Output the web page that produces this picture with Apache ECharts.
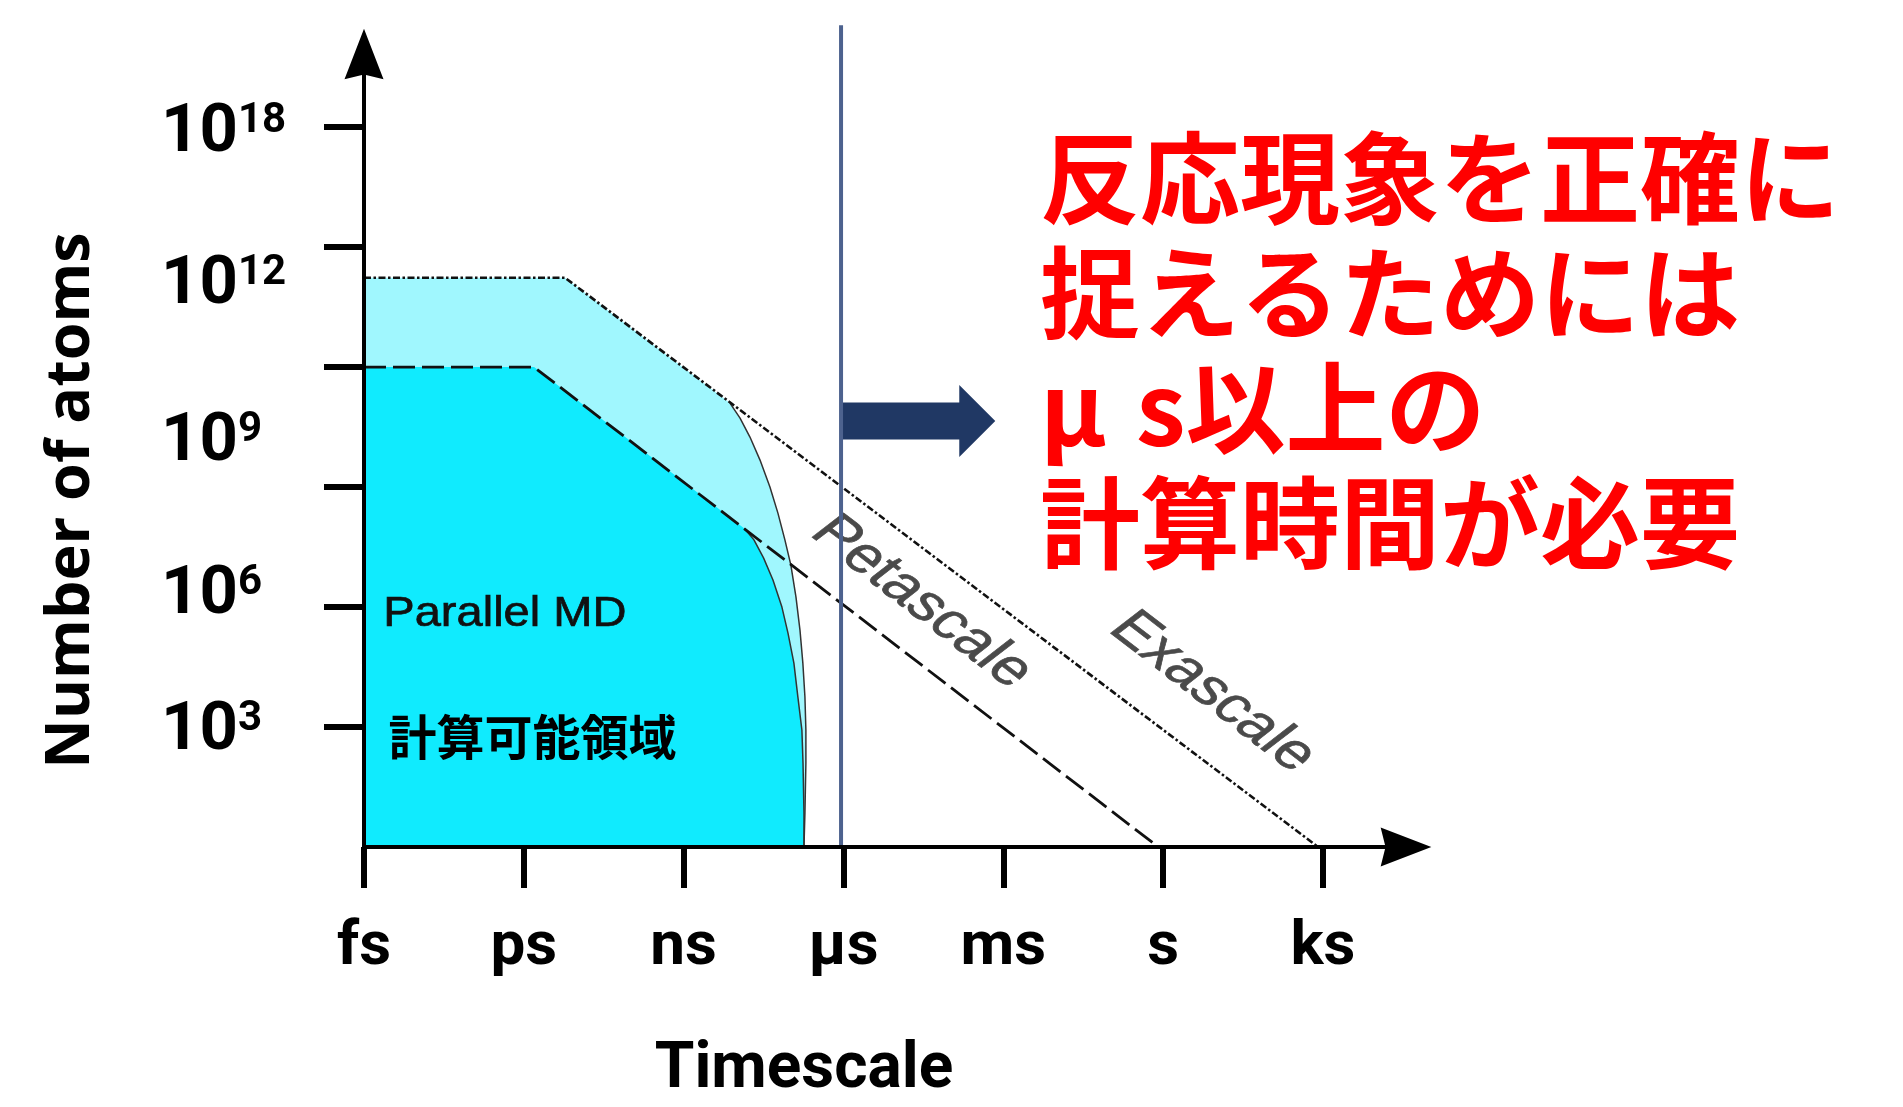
<!DOCTYPE html>
<html><head><meta charset="utf-8">
<script src="https://cdn.jsdelivr.net/npm/echarts@6/dist/echarts.min.js"></script>
<style>html,body{margin:0;padding:0;background:#fff}#c{width:1903px;height:1107px}</style>
</head><body><div id="c"></div>
<script>
// ---- data (schematic units: 1 x-unit = 3 decades of time, y units follow the drawn ticks) ----
const timeLabels = ['fs', 'ps', 'ns', 'µs', 'ms', 's', 'ks'];
const timeTicks = [0, 1, 2, 3, 4, 5, 6];
const atomTicks = [1, 2, 3, 4, 5, 6];
const atomLabelExp = [3, 6, 9, 12, 18];
const atomLabelAt = [0.955, 2.09, 3.365, 4.677, 5.945];

const exascale = [[0, 4.745], [1.258, 4.745], [5.97, 0]];
const petascale = [[0, 4.0], [1.064, 4.0], [4.97, 0]];

const exaRegionTop = [[0, 4.745], [1.258, 4.745]];
const exaRegionCurve = [[2.29, 3.70], [2.353, 3.575], [2.415, 3.417], [2.478, 3.225], [2.54, 3.0], [2.59, 2.783], [2.634, 2.558], [2.671, 2.35], [2.703, 2.083], [2.728, 1.808], [2.746, 1.533], [2.759, 1.25], [2.765, 0.975], [2.765, 0.70], [2.759, 0.283], [2.753, 0]];
const petaRegionTop = [[0, 4.0], [1.064, 4.0]];
const petaRegionCurve = [[2.38, 2.655], [2.44, 2.56], [2.50, 2.41], [2.559, 2.225], [2.615, 2.0], [2.653, 1.783], [2.69, 1.533], [2.715, 1.25], [2.74, 0.975], [2.747, 0.70], [2.753, 0.283], [2.753, 0]];

const microLine = [[2.985, 0], [2.985, 6.85]];
const arrowSpan = [[2.985, 3.95, 3.55]];

const regionLabel = ['Parallel MD'];
const regionLabelAt = [[0.121, 1.94]];
const regionLabelJa = ['計算可能領域'];
const regionLabelJaAt = [[0.153, 0.917]];
const scaleLabels = ['Petascale', 'Exascale'];
const scaleLabelAt = [[3.49, 2.04], [5.31, 1.29]];
const noteLines = ['反応現象を正確に', '捉えるためには', 'μs以上の', '計算時間が必要'];

// ---- chart ----
const chart = echarts.init(document.getElementById('c'), null, {renderer: 'canvas'});
const arrowPath = 'path://M20,0L40,52L20,47L0,52Z';
function nearestIdx(arr, v) {
  let best = 0;
  for (let i = 1; i < arr.length; i++) if (Math.abs(arr[i] - v) < Math.abs(arr[best] - v)) best = i;
  return best;
}
const noteText = noteLines.map(s => s.replace('μ', '{mu|μ}')).join('\n');
const noteFont = {fontFamily: 'Noto Sans CJK JP', fontWeight: 'bold', fontSize: 100, lineHeight: 115, color: '#ff0000'};
const option = {
  animation: false,
  backgroundColor: '#fff',
  title: {
    text: noteText,
    left: 1040, top: 120, padding: 0,
    textStyle: Object.assign({}, noteFont, {rich: {mu: Object.assign({}, noteFont, {width: 96})}})
  },
  grid: {left: 364, right: 497, top: 54, bottom: 260, outerBoundsMode: 'none'},
  xAxis: {
    type: 'value', min: 0, max: 6.52, z: 10,
    axisLine: {show: true, onZero: false, symbol: ['none', arrowPath], symbolSize: [39, 54], lineStyle: {color: '#000', width: 4}},
    axisTick: {show: true, customValues: timeTicks, length: 41, lineStyle: {color: '#000', width: 6}},
    axisLabel: {show: true, customValues: timeTicks, formatter: v => timeLabels[Math.round(v)], margin: 70,
      fontFamily: 'Roboto', fontWeight: 'bold', fontSize: 62, lineHeight: 62, color: '#000'},
    splitLine: {show: false},
    name: 'Timescale', nameLocation: 'middle', nameGap: 192,
    nameTextStyle: {fontFamily: 'Roboto', fontWeight: 'bold', fontSize: 64, lineHeight: 64, color: '#000', padding: [0, 162, 0, 0]}
  },
  yAxis: {
    type: 'value', min: 0, max: 6.61, z: 10,
    axisLine: {show: true, onZero: false, symbol: ['none', arrowPath], symbolSize: [39, 52], lineStyle: {color: '#000', width: 4}},
    axisTick: {show: true, customValues: atomTicks, length: 40, lineStyle: {color: '#000', width: 6}},
    axisLabel: {show: true, customValues: atomLabelAt, align: 'left', margin: 203,
      formatter: v => '{b|10}{s|' + atomLabelExp[nearestIdx(atomLabelAt, v)] + '}',
      rich: {
        b: {fontFamily: 'Roboto', fontWeight: 'bold', fontSize: 67, lineHeight: 67, color: '#000'},
        s: {fontFamily: 'Roboto', fontWeight: 'bold', fontSize: 42, lineHeight: 42, verticalAlign: 'top', color: '#000'}
      }},
    splitLine: {show: false},
    name: 'Number of atoms', nameLocation: 'middle', nameGap: 262,
    nameTextStyle: {fontFamily: 'Open Sans', fontWeight: 'bold', fontSize: 61, lineHeight: 61, color: '#000', padding: [0, 100, 0, 0]}
  },
  series: [
    {type: 'line', name: 'exa-region', data: exaRegionTop.concat(exaRegionCurve), symbol: 'none', silent: true,
      lineStyle: {width: 0, opacity: 0}, areaStyle: {color: '#a0f7fe', opacity: 1}, z: 1},
    {type: 'line', name: 'peta-region', data: petaRegionTop.concat(petaRegionCurve), symbol: 'none', silent: true,
      lineStyle: {width: 0, opacity: 0}, areaStyle: {color: '#10ebfe', opacity: 1}, z: 2},
    {type: 'line', data: exaRegionCurve, symbol: 'none', silent: true, lineStyle: {color: '#333', width: 1.5}, z: 3},
    {type: 'line', data: petaRegionCurve, symbol: 'none', silent: true, lineStyle: {color: '#333', width: 1.5}, z: 3},
    {type: 'line', name: 'Exascale', data: exascale, symbol: 'none', silent: true,
      lineStyle: {color: '#111', width: 2.6, type: [7, 2.5, 2.5, 2.5]}, z: 4},
    {type: 'line', name: 'Petascale', data: petascale, symbol: 'none', silent: true,
      lineStyle: {color: '#111', width: 2.8, type: [22, 7]}, z: 4},
    {type: 'custom', data: scaleLabelAt, silent: true, z: 5,
      renderItem: (params, api) => {
        const p = api.coord([api.value(0), api.value(1)]);
        return {type: 'group', x: p[0], y: p[1], scaleX: 1.3, children: [{
          type: 'text', rotation: -Math.PI / 4,
          style: {text: scaleLabels[params.dataIndex], fontFamily: 'Liberation Sans', fontSize: 50, fill: '#4a4a4a',
            stroke: '#4a4a4a', lineWidth: 0.6, align: 'center', verticalAlign: 'middle'}
        }]};
      }},
    {type: 'custom', data: regionLabelAt, silent: true, z: 5,
      renderItem: (params, api) => {
        const p = api.coord([api.value(0), api.value(1)]);
        return {type: 'text', x: p[0], y: p[1], scaleX: 1.12,
          style: {text: regionLabel[params.dataIndex], fontFamily: 'Liberation Sans', fontSize: 42, fill: '#111',
            stroke: '#111', lineWidth: 0.7, align: 'left', verticalAlign: 'middle'}};
      }},
    {type: 'custom', data: regionLabelJaAt, silent: true, z: 5,
      renderItem: (params, api) => {
        const p = api.coord([api.value(0), api.value(1)]);
        return {type: 'text', x: p[0], y: p[1],
          style: {text: regionLabelJa[params.dataIndex], fontFamily: 'Noto Sans CJK JP', fontWeight: 'bold', fontSize: 48, fill: '#000', align: 'left', verticalAlign: 'middle'}};
      }},
    {type: 'custom', data: arrowSpan, silent: true, z: 6,
      renderItem: (params, api) => {
        const a = api.coord([api.value(0), api.value(2)]);
        const b = api.coord([api.value(1), api.value(2)]);
        const head = 36, shaft = 18.5, headHalf = 36, y = a[1];
        return {type: 'polygon', shape: {points: [
          [a[0], y - shaft], [b[0] - head, y - shaft], [b[0] - head, y - headHalf], [b[0], y],
          [b[0] - head, y + headHalf], [b[0] - head, y + shaft], [a[0], y + shaft]]},
          style: {fill: '#203864'}};
      }},
    {type: 'line', data: microLine, symbol: 'none', silent: true, clip: false,
      lineStyle: {color: '#4d628e', width: 4}, z: 7}
  ]
};
chart.setOption(option);
</script></body></html>
